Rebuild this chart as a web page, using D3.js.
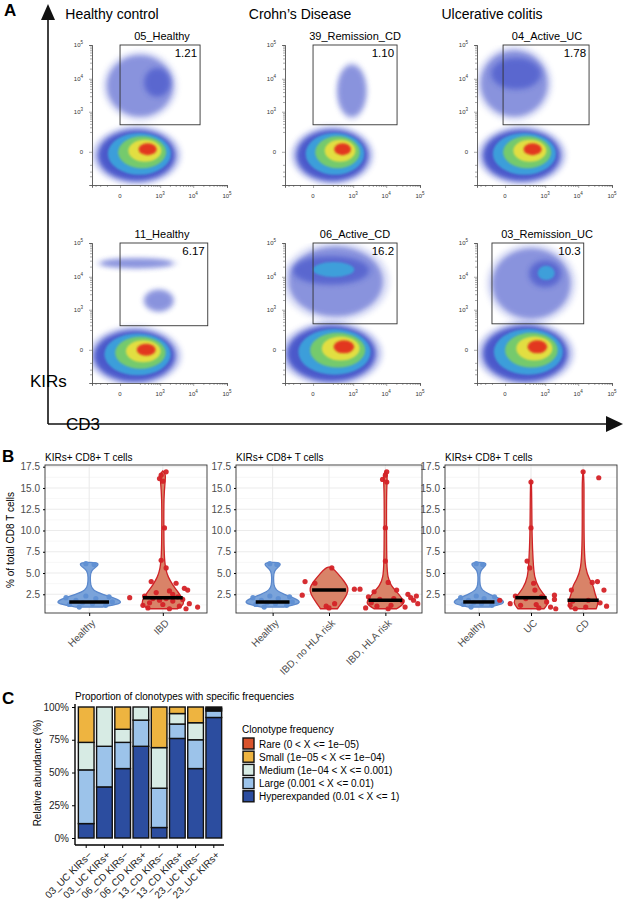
<!DOCTYPE html>
<html>
<head>
<meta charset="utf-8">
<script src="https://cdn.jsdelivr.net/npm/d3@7"></script>
<style>
body { margin: 0; background: #fff; }
text { font-family: "Liberation Sans", Arial, sans-serif; }
</style>
</head>
<body>
<svg id="fig" width="624" height="900"></svg>
<script>
// ---------- data: panel A (flow plots) ----------
let columnTitles = ["Healthy control", "Crohn\u2019s Disease", "Ulcerative colitis"]
let flowNames = ["05_Healthy", "39_Remission_CD", "04_Active_UC", "11_Healthy", "06_Active_CD", "03_Remission_UC"]
let gateValues = ["1.21", "1.10", "1.78", "6.17", "16.2", "10.3"]
// gate: x0, x1, lower y (upper y is top of axis)
let gates = [[0, 16000, 370], [0, 21000, 370], [-10, 21000, 370], [0, 27000, 290], [0, 21000, 340], [-100, 14600, 340]]
// populations: x0, x1, y0, y1 (data units), peak level 0..4
let populations = [
  [[-250, 3000, -450, 250, 4], [-100, 2500, 700, 50000, 0], [300, 2000, 3000, 20000, 0]],
  [[-150, 3000, -450, 250, 4], [300, 2500, 700, 25000, 0]],
  [[-250, 3000, -450, 250, 4], [-300, 1200, 700, 70000, 0], [-100, 700, 5000, 40000, 0]],
  [[-350, 3000, -550, 200, 4], [-200, 2500, 18000, 35000, 0], [300, 2500, 900, 4000, 0]],
  [[-350, 5000, -550, 300, 4], [-300, 8000, 600, 80000, 0], [-200, 3000, 6000, 40000, 1]],
  [[-250, 5000, -550, 300, 4], [-100, 6000, 500, 70000, 0], [300, 3000, 5000, 30000, 1]]
]
let flowTicks = [0, 1000, 10000, 100000]
let flowTickLabels = ["0", "10|3", "10|4", "10|5"]

// ---------- data: panel B (violins) ----------
let healthyPts = [[1.0, -0.3], [1.2, 0.5], [1.3, -0.6], [1.4, 0.1], [1.5, -0.2], [1.6, 0.7], [1.8, -0.4], [2.0, 0.2], [2.1, -0.7], [2.2, 0.6], [2.3, -0.1], [6.0, 0.15], [6.1, -0.1]]
let healthyShape = [[1.0, 0.4], [1.3, 0.85], [1.6, 1.0], [2.0, 0.8], [2.5, 0.4], [3.0, 0.1], [3.6, 0.04], [4.5, 0.03], [5.3, 0.05], [5.8, 0.25], [6.2, 0.3], [6.25, 0]]
let ibdPts = [[16.9, 0.1], [16.5, -0.05], [16.1, -0.1], [15.8, 0.0], [10.3, 0.05], [6.5, -0.05], [5.6, 0.1], [4.0, -0.35], [3.8, 0.4], [3.2, 0.65], [3.0, 0.75], [2.9, 0.2], [2.7, -0.2], [2.5, 0.3], [2.3, -0.55], [2.2, 0.45], [2.1, -1.0], [2.0, 0.1], [2.0, -0.3], [1.9, 0.6], [1.8, -0.1], [1.7, 0.3], [1.5, -0.4], [1.4, 0.8], [1.3, 0.0], [1.2, -0.6], [1.1, 0.5], [1.0, 1.05], [0.9, -0.45], [0.8, 0.7], [0.8, 0.2]]
let ibdShape = [[0.8, 0.45], [1.3, 0.65], [2.0, 0.6], [2.8, 0.45], [3.6, 0.3], [4.5, 0.16], [5.5, 0.08], [7.0, 0.04], [10, 0.03], [14, 0.03], [15.8, 0.07], [16.6, 0.09], [17.0, 0]]
let noRiskPts = [[5.6, 0.1], [4.0, -0.85], [3.8, -0.5], [3.1, 0.9], [3.1, 1.1], [2.4, -0.95], [1.4, 0.2], [1.1, -0.1], [0.9, 0.0]]
let noRiskShape = [[0.8, 0.3], [1.5, 0.45], [2.5, 0.65], [3.2, 0.7], [4.0, 0.55], [5.0, 0.3], [5.6, 0.12], [5.7, 0]]
let riskPts = [[16.9, 0.05], [16.5, 0.0], [16.0, -0.1], [15.7, 0.05], [10.3, 0.0], [6.4, 0.0], [3.9, 0.1], [3.0, 0.4], [2.8, -0.4], [2.5, 0.8], [2.3, 1.1], [2.2, -0.6], [2.1, 0.9], [2.0, 0.3], [1.9, -0.2], [1.8, 1.0], [1.7, 0.6], [1.5, -0.5], [1.4, 1.15], [1.2, 0.2], [1.1, -0.3], [1.0, 0.7], [0.9, -0.7], [0.8, 0.1]]
let riskShape = [[0.8, 0.4], [1.4, 0.7], [2.0, 0.6], [2.8, 0.4], [3.5, 0.2], [4.5, 0.08], [6, 0.05], [10, 0.04], [15, 0.04], [16.5, 0.08], [17.0, 0]]
let ucPts = [[15.7, 0.0], [10.3, 0.0], [6.4, -0.15], [5.6, -0.05], [3.8, 0.1], [3.0, 0.15], [2.4, 0.9], [2.3, -0.6], [2.2, 0.4], [2.0, -0.2], [1.8, -1.2], [1.6, 0.6], [1.4, -0.8], [1.3, 0.2], [1.2, -0.4], [1.0, 0.75], [0.9, 0.3], [0.8, 0.95]]
let ucShape = [[0.8, 0.5], [1.5, 0.7], [2.3, 0.55], [3.2, 0.3], [4.5, 0.12], [6.5, 0.08], [9, 0.04], [13, 0.03], [15.7, 0.02], [15.9, 0]]
let cdPts = [[16.9, 0.0], [16.2, 0.6], [4.0, 0.55], [3.9, 0.35], [3.0, -0.45], [3.0, 0.8], [1.9, -1.1], [1.8, 0.2], [1.7, -0.4], [1.5, 0.65], [1.2, -0.5], [1.1, 0.9], [1.0, 0.1], [0.8, -0.3]]
let cdShape = [[0.8, 0.5], [1.5, 0.6], [2.5, 0.45], [3.5, 0.4], [4.2, 0.25], [5.5, 0.08], [8, 0.04], [12, 0.03], [16, 0.04], [17.0, 0]]

let groupsB = [
  { cats: ["Healthy", "IBD"], groups: [
    { pts: healthyPts, shape: healthyShape, median: 1.6, healthy: true },
    { pts: ibdPts, shape: ibdShape, median: 2.1 }] },
  { cats: ["Healthy", "IBD, no HLA risk", "IBD, HLA risk"], groups: [
    { pts: healthyPts, shape: healthyShape, median: 1.6, healthy: true },
    { pts: noRiskPts, shape: noRiskShape, median: 3.0 },
    { pts: riskPts, shape: riskShape, median: 1.8 }] },
  { cats: ["Healthy", "UC", "CD"], groups: [
    { pts: healthyPts, shape: healthyShape, median: 1.6, healthy: true },
    { pts: ucPts, shape: ucShape, median: 2.1 },
    { pts: cdPts, shape: cdShape, median: 1.8 }] }
]
let yTicksB = [2.5, 5.0, 7.5, 10.0, 12.5, 15.0, 17.5]

// ---------- data: panel C (stacked bars) ----------
let samples = ["03_UC KIRs\u2212", "03_UC KIRs+", "06_CD KIRs\u2212", "06_CD KIRs+", "13_CD KIRs\u2212", "13_CD KIRs+", "23_UC KIRs\u2212", "23_UC KIRs+"]
let hyper = [11, 39, 53, 70, 8, 76, 53, 92]
let large = [41, 31, 20, 20, 30, 11, 22, 5]
let medium = [21, 30, 10, 10, 31, 8, 13, 1]
let small = [27, 0, 17, 0, 31, 5, 12, 1]
let rare = [0, 0, 0, 0, 0, 0, 0, 1]
let freqKeys = ["hyper", "large", "medium", "small", "rare"]
let freqLabels = ["Rare (0 < X <= 1e\u221205)", "Small (1e\u221205 < X <= 1e\u221204)", "Medium (1e\u221204 < X <= 0.001)", "Large (0.001 < X <= 0.01)", "Hyperexpanded (0.01 < X <= 1)"]
let freqColors = { rare: "#d9532c", small: "#eeb440", medium: "#d7ebe4", large: "#9cc3ea", hyper: "#2c4d9f" }

let svg = d3.select('#fig')

// ================= Panel A =================
let drawPanelA = () => {
    svg.append('text').attr('x', 4).attr('y', 16).attr('font-size', 17).attr('font-weight', 'bold').text('A')
    let colCenters = [112, 300, 492]
    columnTitles.forEach((t, i) => {
        svg.append('text').attr('x', colCenters[i]).attr('y', 19).attr('text-anchor', 'middle')
            .attr('font-size', 14).text(t)
    })
    // axes arrows
    svg.append('line').attr('x1', 48).attr('y1', 424).attr('x2', 48).attr('y2', 18).attr('stroke', '#111').attr('stroke-width', 1.6)
    svg.append('path').attr('d', 'M41,20 L48,4 L55,20 Z').attr('fill', '#111')
    svg.append('line').attr('x1', 48).attr('y1', 424).attr('x2', 608).attr('y2', 424).attr('stroke', '#111').attr('stroke-width', 1.6)
    svg.append('path').attr('d', 'M606,416 L623,424 L606,432 Z').attr('fill', '#111')
    svg.append('text').attr('x', 30).attr('y', 387).attr('font-size', 17).text('KIRs')
    svg.append('text').attr('x', 66).attr('y', 430).attr('font-size', 17).text('CD3')

    let defs = svg.append('defs')
    defs.append('filter').attr('id', 'blur').attr('x', '-50%').attr('y', '-50%').attr('width', '200%').attr('height', '200%')
        .append('feGaussianBlur').attr('stdDeviation', 2.5)
    defs.append('filter').attr('id', 'blur2').attr('x', '-50%').attr('y', '-50%').attr('width', '200%').attr('height', '200%')
        .append('feGaussianBlur').attr('stdDeviation', 1.3)

    let origins = [92, 285, 477]
    let tops = [45, 243]
    let w = 135, h = 140
    let ramp = ['#3445c4', '#3aa6dc', '#7ccf62', '#eee13e', '#e3261c']
    let minor = []
    ;[100, 1000, 10000].forEach(d => { for (let k = 2; k <= 9; k++) minor.push(d * k) })
    minor.push(-100, -200, -300)

    flowNames.forEach((name, i) => {
        let col = i % 3, row = Math.floor(i / 3)
        let x0 = origins[col], y0 = tops[row]
        let xs = d3.scaleSymlog().constant(70).domain([-400, 100000]).range([x0, x0 + w])
        let ys = d3.scaleSymlog().constant(70).domain([-600, 100000]).range([y0 + h, y0])
        let g = svg.append('g')
        g.append('text').attr('x', x0 + 70).attr('y', y0 - 5).attr('text-anchor', 'middle').attr('font-size', 11).text(name)

        let clipId = 'clip' + i
        defs.append('clipPath').attr('id', clipId).append('rect').attr('x', x0).attr('y', y0).attr('width', w).attr('height', h)
        let pg = g.append('g').attr('clip-path', 'url(#' + clipId + ')')
        populations[i].forEach(p => {
            let cx = (xs(p[0]) + xs(p[1])) / 2, cy = (ys(p[2]) + ys(p[3])) / 2
            let rx = Math.abs(xs(p[1]) - xs(p[0])) / 2, ry = Math.abs(ys(p[3]) - ys(p[2])) / 2
            let main = p[4] > 1
            pg.append('ellipse').attr('cx', cx).attr('cy', cy).attr('rx', rx * 1.15).attr('ry', ry * 1.15)
                .attr('fill', '#5868d6').attr('opacity', main ? 0.3 : 0.18).attr('filter', 'url(#blur)')
            for (let l = 0; l <= p[4]; l++) {
                let f = 1 - l / (p[4] + 1.2)
                pg.append('ellipse').attr('cx', cx + l * 0.07 * rx).attr('cy', cy - l * 0.06 * ry)
                    .attr('rx', rx * f).attr('ry', ry * f)
                    .attr('fill', ramp[l]).attr('opacity', l === 0 ? (main ? 0.85 : 0.5) : 0.9)
                    .attr('filter', l === 0 ? 'url(#blur)' : 'url(#blur2)')
            }
        })

        // gate
        let gt = gates[i]
        g.append('rect').attr('x', xs(gt[0])).attr('y', ys(100000)).attr('width', xs(gt[1]) - xs(gt[0]))
            .attr('height', ys(gt[2]) - ys(100000)).attr('fill', 'none').attr('stroke', '#333').attr('stroke-width', 0.9)
        g.append('text').attr('x', xs(gt[1]) - 3).attr('y', ys(100000) + 12).attr('text-anchor', 'end')
            .attr('font-size', 11.5).text(gateValues[i])

        // axes
        let xa = g.append('g').attr('transform', 'translate(0,' + (y0 + h) + ')')
        xa.call(d3.axisBottom(xs).tickValues(flowTicks).tickSize(3).tickFormat(''))
        xa.append('g').call(d3.axisBottom(xs).tickValues(minor).tickSize(2).tickFormat(''))
        let ya = g.append('g').attr('transform', 'translate(' + x0 + ',0)')
        ya.call(d3.axisLeft(ys).tickValues(flowTicks).tickSize(3).tickFormat(''))
        ya.append('g').call(d3.axisLeft(ys).tickValues(minor).tickSize(2).tickFormat(''))
        g.selectAll('.domain').attr('stroke', '#555').attr('stroke-width', 0.7)
        g.selectAll('.tick line').attr('stroke', '#555').attr('stroke-width', 0.5)
        flowTicks.forEach((t, k) => {
            let parts = flowTickLabels[k].split('|')
            let tx = g.append('text').attr('x', xs(t)).attr('y', y0 + h + 13).attr('text-anchor', 'middle').attr('font-size', 6).attr('fill', '#333')
            tx.append('tspan').text(parts[0])
            if (parts[1]) tx.append('tspan').attr('dy', -3).attr('font-size', 4.5).text(parts[1])
            let ty = g.append('text').attr('x', x0 - 9).attr('y', ys(t) + 2).attr('text-anchor', 'end').attr('font-size', 6).attr('fill', '#333')
            ty.append('tspan').text(parts[0])
            if (parts[1]) ty.append('tspan').attr('dy', -3).attr('font-size', 4.5).text(parts[1])
        })
    })
}

// ================= Panel B =================
let drawPanelB = () => {
    svg.append('text').attr('x', 2).attr('y', 462).attr('font-size', 17).attr('font-weight', 'bold').text('B')
    svg.append('text').attr('transform', 'translate(14,540) rotate(-90)').attr('text-anchor', 'middle')
        .attr('font-size', 10).text('% of total CD8 T cells')
    let frames = [[45, 207], [236, 422], [445, 617]]
    let top = 465, bottom = 613
    let yScale = d3.scaleLinear().domain([0.3, 17.7]).range([bottom, top])
    groupsB.forEach((panel, pi) => {
        let [l, r] = frames[pi]
        let g = svg.append('g')
        let xScale = d3.scalePoint().domain(panel.cats).range([l, r]).padding(pi === 0 ? 0.6 : 0.65)
        let step = xScale.step()
        let hwUnit = step * (pi === 0 ? 0.45 : 0.5)
        yTicksB.forEach(t => {
            g.append('line').attr('x1', l).attr('x2', r).attr('y1', yScale(t)).attr('y2', yScale(t)).attr('stroke', '#ebebeb').attr('stroke-width', 1.1)
            g.append('line').attr('x1', l).attr('x2', r).attr('y1', yScale(t - 1.25)).attr('y2', yScale(t - 1.25)).attr('stroke', '#f2f2f2').attr('stroke-width', 0.6)
        })
        panel.cats.forEach(c => {
            g.append('line').attr('x1', xScale(c)).attr('x2', xScale(c)).attr('y1', top).attr('y2', bottom).attr('stroke', '#ebebeb').attr('stroke-width', 1.1)
        })
        panel.groups.forEach((grp, gi) => {
            let cx = xScale(panel.cats[gi])
            let fill = grp.healthy ? '#7aa3da' : '#d98368'
            let stroke = grp.healthy ? '#5b88cc' : '#cf2226'
            let pt = grp.healthy ? '#5f8fd3' : '#d42227'
            let area = d3.area().curve(d3.curveBasis)
                .y(d => yScale(d[0])).x0(d => cx - d[1] * hwUnit).x1(d => cx + d[1] * hwUnit)
            g.append('path').datum(grp.shape).attr('d', area).attr('fill', fill).attr('stroke', stroke).attr('stroke-width', 1.3)
            g.selectAll(null).data(grp.pts).enter().append('circle')
                .attr('cx', d => cx + d[1] * hwUnit).attr('cy', d => yScale(d[0])).attr('r', 2.6)
                .attr('fill', pt).attr('opacity', 0.95)
            g.append('line').attr('x1', cx - hwUnit * 0.6).attr('x2', cx + hwUnit * 0.6)
                .attr('y1', yScale(grp.median)).attr('y2', yScale(grp.median)).attr('stroke', '#000').attr('stroke-width', 3.5)
        })
        g.append('rect').attr('x', l).attr('y', top).attr('width', r - l).attr('height', bottom - top)
            .attr('fill', 'none').attr('stroke', '#333').attr('stroke-width', 0.9)
        let ya = g.append('g').attr('transform', 'translate(' + l + ',0)')
            .call(d3.axisLeft(yScale).tickValues(yTicksB).tickSize(2).tickFormat(d3.format('.1f')))
        ya.select('.domain').remove()
        ya.selectAll('text').attr('font-size', 10).attr('fill', '#4d4d4d')
        let xa = g.append('g').attr('transform', 'translate(0,' + bottom + ')').call(d3.axisBottom(xScale).tickSize(3))
        xa.select('.domain').remove()
        xa.selectAll('text').attr('font-size', 10).attr('fill', '#4d4d4d')
            .attr('text-anchor', 'end').attr('transform', 'rotate(-45)').attr('dx', '-0.3em').attr('dy', '0.6em')
        g.append('text').attr('x', l).attr('y', 461).attr('font-size', 10).text('KIRs+ CD8+ T cells')
    })
}

// ================= Panel C =================
let drawPanelC = () => {
    svg.append('text').attr('x', 2).attr('y', 704).attr('font-size', 17).attr('font-weight', 'bold').text('C')
    svg.append('text').attr('x', 75).attr('y', 700).attr('font-size', 10).text('Proportion of clonotypes with specific frequencies')
    let table = samples.map((s, i) => ({ sample: s, hyper: hyper[i], large: large[i], medium: medium[i], small: small[i], rare: rare[i] }))
    let stack = d3.stack().keys(freqKeys)(table)
    let xScale = d3.scaleBand().domain(samples).range([78, 222]).paddingInner(0.14).paddingOuter(0.02)
    let yScale = d3.scaleLinear().domain([0, 100]).range([838, 707])
    let g = svg.append('g')
    stack.forEach(layer => {
        g.selectAll(null).data(layer).enter().append('rect')
            .attr('x', d => xScale(d.data.sample)).attr('width', xScale.bandwidth())
            .attr('y', d => yScale(d[1])).attr('height', d => yScale(d[0]) - yScale(d[1]))
            .attr('fill', freqColors[layer.key]).attr('stroke', '#111').attr('stroke-width', 1.4)
    })
    let ya = g.append('g').attr('transform', 'translate(75,0)')
        .call(d3.axisLeft(yScale).tickValues([0, 25, 50, 75, 100]).tickSize(3).tickFormat(d => d + '%'))
    ya.select('.domain').attr('d', 'M0,704V845').attr('stroke-width', 1.4)
    ya.selectAll('text').attr('font-size', 10).attr('fill', '#222')
    let xa = g.append('g').attr('transform', 'translate(0,845)').call(d3.axisBottom(xScale).tickSize(3))
    xa.select('.domain').attr('d', 'M75,0H224').attr('stroke-width', 1.4)
    xa.selectAll('text').attr('font-size', 10).attr('fill', '#222')
        .attr('text-anchor', 'end').attr('transform', 'rotate(-45)').attr('dx', '-0.3em').attr('dy', '0.6em')
    svg.append('text').attr('transform', 'translate(41,773) rotate(-90)').attr('text-anchor', 'middle')
        .attr('font-size', 10).text('Relative abundance (%)')

    let lg = svg.append('g').attr('transform', 'translate(242,0)')
    lg.append('text').attr('x', 0).attr('y', 733).attr('font-size', 10).text('Clonotype frequency')
    let order = ["rare", "small", "medium", "large", "hyper"]
    order.forEach((k, i) => {
        let y = 738 + i * 13.2
        lg.append('rect').attr('x', 1).attr('y', y).attr('width', 11).attr('height', 11)
            .attr('fill', freqColors[k]).attr('stroke', '#111').attr('stroke-width', 1.4)
        lg.append('text').attr('x', 17).attr('y', y + 9.5).attr('font-size', 10).text(freqLabels[i])
    })
}

drawPanelA()
drawPanelB()
drawPanelC()
</script>
</body>
</html>
